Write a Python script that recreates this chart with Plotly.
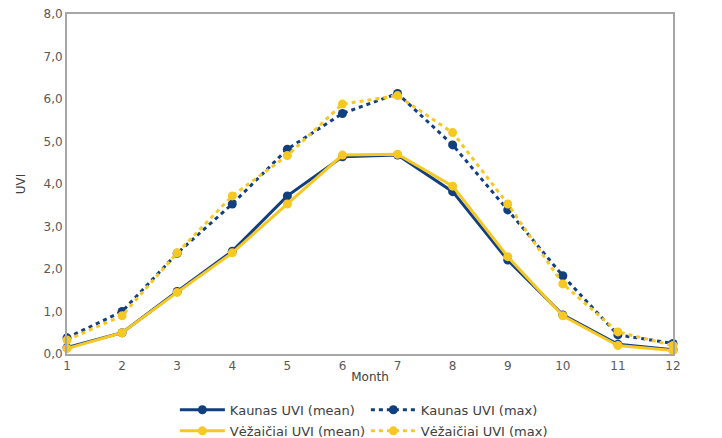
import plotly.graph_objects as go

months = list(range(1, 13))
kaunas_mean = [0.15, 0.50, 1.47, 2.42, 3.72, 4.64, 4.68, 3.82, 2.21, 0.92, 0.23, 0.10]
kaunas_max = [0.38, 1.00, 2.37, 3.53, 4.82, 5.66, 6.13, 4.92, 3.39, 1.84, 0.45, 0.25]
vez_mean = [0.13, 0.50, 1.45, 2.38, 3.53, 4.68, 4.70, 3.95, 2.29, 0.90, 0.20, 0.08]
vez_max = [0.33, 0.90, 2.38, 3.72, 4.67, 5.88, 6.08, 5.21, 3.53, 1.65, 0.52, 0.20]

NAVY = "#113f7f"
YELLOW = "#f6c824"
FONT = "DejaVu Sans"

fig = go.Figure()
fig.add_trace(go.Scatter(x=months, y=kaunas_mean, name="Kaunas UVI (mean)", mode="lines+markers",
                         line=dict(color=NAVY, width=3), marker=dict(size=9, color=NAVY),
                         cliponaxis=False, legend="legend"))
fig.add_trace(go.Scatter(x=months, y=kaunas_max, name="Kaunas UVI (max)", mode="lines+markers",
                         line=dict(color=NAVY, width=3, dash="4px,4px"), marker=dict(size=9, color=NAVY),
                         cliponaxis=False, legend="legend"))
fig.add_trace(go.Scatter(x=months, y=vez_mean, name="Vėžaičiai UVI (mean)", mode="lines+markers",
                         line=dict(color=YELLOW, width=3), marker=dict(size=9, color=YELLOW),
                         cliponaxis=False, legend="legend2"))
fig.add_trace(go.Scatter(x=months, y=vez_max, name="Vėžaičiai UVI (max)", mode="lines+markers",
                         line=dict(color=YELLOW, width=3, dash="4px,4px"), marker=dict(size=9, color=YELLOW),
                         cliponaxis=False, legend="legend2"))

legend_style = dict(orientation="h", x=0.178, xanchor="left", yanchor="top",
                    entrywidth=131, font=dict(family=FONT, size=13, color="#404040"),
                    tracegroupgap=0, itemwidth=45, bgcolor="rgba(0,0,0,0)")

fig.update_layout(
    width=722, height=438,
    margin=dict(l=67, r=49, t=14, b=84, autoexpand=False),
    paper_bgcolor="white", plot_bgcolor="white",
    separators=", ",
    font=dict(family=FONT, size=12, color="#595959"),
    legend=dict(y=-0.12, **legend_style),
    legend2=dict(y=-0.182, **legend_style),
    xaxis=dict(range=[1, 12], tickvals=months, showgrid=False, zeroline=False, automargin=False,
               showline=True, linecolor="#a6a6a6", linewidth=2, mirror=True,
               title=dict(text="Month", standoff=0, font=dict(size=12, color="#404040")),
               ticks="", tickfont=dict(size=12)),
    yaxis=dict(range=[0, 8], dtick=1, tickformat=".1f", showgrid=False, zeroline=False, automargin=False,
               showline=True, linecolor="#a6a6a6", linewidth=2, mirror=True,
               title=dict(text="UVI", standoff=15, font=dict(size=12, color="#404040")),
               ticks="", tickfont=dict(size=12)),
)

fig.write_html("out.html", config={"displayModeBar": False},
               post_script="document.body.style.margin='0px';")
